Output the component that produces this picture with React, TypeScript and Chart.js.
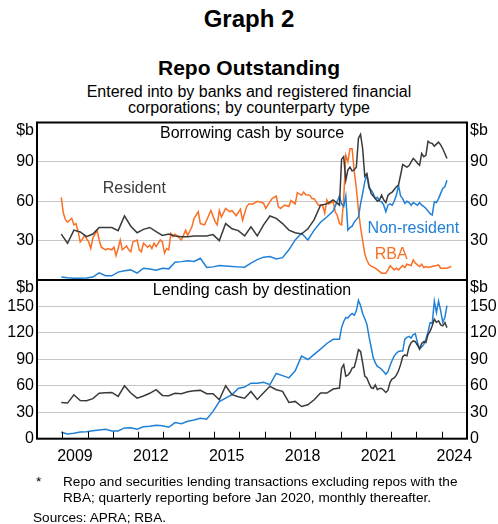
import React, { useEffect, useRef } from 'react';
import { Chart, registerables } from 'chart.js';

Chart.register(...registerables);

const FONT = "'Liberation Sans', Arial, Helvetica, sans-serif";
const BLACK = '#3a3a3a';
const BLUE = '#1f80d8';
const ORANGE = '#fb6f24';

// ---------- dates ----------
// Quarterly observations Dec 2008 – Dec 2019, monthly Jan 2020 – Mar 2024
const quarterlyStart = { year: 2008, month: 12, count: 45, step: 3 };
const monthlyStart = { year: 2020, month: 1, count: 51, step: 1 };
// RBA series: months after Dec 2008 at which values were read
const rbaMonthIndex = [
  0, 1, 2, 3, 5, 6, 7, 8, 9, 10, 11, 13, 14, 15, 17, 18, 19, 21, 22, 24, 25, 26, 27, 28, 29, 31, 32, 33, 34, 36,
  37, 38, 39, 41, 42, 43, 44, 45, 47, 48, 49, 50, 51, 52, 53, 54, 56, 57, 59, 60, 62, 63, 65, 66, 68, 69, 71, 73,
  74, 75, 76, 78, 80, 81, 83, 85, 86, 88, 89, 91, 93, 96, 97, 100, 102, 103, 104, 106, 108, 109, 111, 112, 114,
  115, 116, 118, 119, 120, 122, 124, 125, 126, 127, 129, 130, 131, 132, 133, 134, 135, 136, 137, 138, 139, 140,
  141, 142, 143, 144, 145, 146, 147, 149, 152, 154, 155, 156, 158, 159, 160, 162, 163, 164, 166, 167, 168, 170,
  171, 172, 173, 174, 176, 178, 179, 180, 181, 183, 185,
];

// ---------- borrowing cash by source ($b) ----------
const residentBorrowQ = [
  35, 28, 38, 36.6, 33, 35, 40, 40, 40, 37.6, 48.8, 41, 36, 38.6, 40, 36.8, 34, 35, 33.5, 33, 33, 33.6, 33.6, 33.6,
  34.6, 30, 43, 39, 37.6, 33.6, 40.6, 33.6, 42, 48.8, 47, 43, 38, 36, 35, 39, 46, 57, 58, 61, 57,
];
const residentBorrowM = [
  92, 94, 76, 84, 86, 83, 84, 86, 108, 111, 100, 79, 81, 72, 66, 64, 62, 60, 61, 64.7, 61, 59, 64.5, 66, 67, 69,
  71, 72.3, 80, 88, 87, 86, 87, 90, 92.6, 91, 89, 87.5, 96.4, 94, 95, 105.7, 104.5, 104, 102, 103.5, 105, 103, 100,
  96.4, 92.6,
];
const nonResBorrowQ = [
  2.2, 1.7, 1.4, 1.4, 1.6, 2.2, 5.5, 3.2, 3.2, 6, 7, 7.7, 5.2, 9, 8.3, 7.5, 9, 8.5, 13.6, 14, 14.6, 14.1, 16.6, 9.5,
  10, 11, 10.7, 10.3, 10, 9.8, 12.8, 15.5, 17.4, 17.9, 16.1, 17, 23, 30.5, 35.6, 30.5, 38, 44, 48, 52.5, 64,
];
const nonResBorrowM = [
  58, 56, 64, 38, 40, 41, 44, 46, 48, 58, 66, 75, 80, 70, 68.5, 66, 62, 63, 60, 59.6, 57, 52, 57, 58, 57, 60, 64.7,
  72, 64, 62, 58.4, 60, 59, 57, 59, 58, 57, 59, 57, 56, 54.6, 52.5, 50.5, 49.5, 59.6, 59, 62, 66, 69.8, 71, 76,
];
const rbaValues = [
  63, 51, 46, 44, 47, 42, 43, 37, 29, 31, 34, 29, 24, 32, 38, 30.5, 25, 23, 24, 23, 25, 18.5, 24, 30.5, 23, 26, 23,
  21.5, 29, 30.5, 23, 21.5, 28, 25, 26.5, 24, 28, 25.5, 30.5, 29, 20.5, 24, 23, 35.5, 33, 35, 32, 30.5, 38, 34,
  40.5, 47, 52, 43, 42, 45.5, 53, 44.5, 42, 53, 48, 54.5, 52, 53, 49, 54, 45.5, 56, 58, 58, 60, 58.5, 54.5, 62, 64,
  56, 54.5, 57, 56, 60.5, 58, 66.5, 64.5, 67, 65, 64.5, 62, 62, 57, 57, 51, 61, 58, 60, 52, 49, 43, 42, 62, 95, 90,
  100, 100, 83, 70, 53, 40, 30, 20, 15, 12, 10.5, 9, 5.2, 5.2, 7.7, 10.8, 7.7, 9, 7.7, 11, 9.5, 12, 11, 15.3, 12.8,
  10.3, 12, 9.5, 10.3, 9.5, 10.3, 11, 11.5, 9, 9, 9, 10.3,
];

// ---------- lending cash by destination ($b) ----------
const residentLendQ = [
  41, 40.4, 49.8, 43.4, 43, 45.5, 51.5, 52, 52.5, 47.9, 60, 51.8, 46, 48.5, 51.5, 55.6, 49.1, 48.7, 51.5, 51, 53.2,
  54.4, 54.8, 51, 51, 44.1, 60, 50, 47.5, 46, 53.6, 44.5, 52, 59.4, 55.6, 53.7, 41.1, 42.3, 36.5, 38.5, 44.2, 51.8,
  51.8, 56.3, 57.5,
];
const residentLendM = [
  80, 84, 71, 72, 75, 80, 81, 90, 101, 99, 86, 71, 69, 63, 58, 57, 61, 55.6, 57, 57, 55, 52.5, 55, 64, 68, 69, 72,
  77, 84, 93, 95, 94, 104, 109, 111, 110, 106, 101.5, 108, 110, 109, 118, 122, 128, 135.5, 132, 133.6, 129, 128,
  131.7, 126,
];
const nonResLendQ = [
  7.3, 5.4, 6.1, 7.6, 8, 9.1, 9.9, 10.7, 8.8, 8.8, 12.2, 12.5, 10.7, 13.5, 14.1, 15.3, 14.8, 13, 18.3, 17.1, 19.8,
  21.3, 23.3, 22.1, 31, 42, 46, 50, 57, 58.6, 63, 63, 64, 61.3, 74, 71.5, 69, 77, 93.7, 89.8, 95.6, 101.6, 108,
  112.7, 112.7,
];
const nonResLendM = [
  126, 133, 137.4, 137, 140, 142, 140, 145, 157, 151, 142, 136, 130, 116, 104, 92, 86, 82, 80.5, 78.5, 76, 73, 76,
  83, 89, 94, 97, 99, 99.4, 99.4, 113, 115, 116, 114, 118, 119, 109, 102, 104, 107, 113, 121, 131.7, 131, 156, 143,
  156, 145, 132, 137.4, 151,
];

// ---------- axes ----------
const xMin = 2008;
const xMax = 2025;
const yearTickMarks = [2009, 2010, 2011, 2012, 2013, 2014, 2015, 2016, 2017, 2018, 2019, 2020, 2021, 2022, 2023, 2024];
const yearLabels = [2009, 2012, 2015, 2018, 2021, 2024];
const topMax = 120;
const bottomMax = 180;
const yStep = 30;

function monthSeq(s: { year: number; month: number; count: number; step: number }): number[] {
  const out: number[] = [];
  for (let i = 0; i < s.count; i++) {
    const m = s.month - 1 + i * s.step;
    out.push(s.year + Math.floor(m / 12) + ((m % 12) + 0.5) / 12);
  }
  return out;
}
const quarterDates = monthSeq(quarterlyStart);
const monthDates = monthSeq(monthlyStart);
const rbaDates = rbaMonthIndex.map((i) => 2008 + (11 + i + 0.5) / 12);

function joinSeries(q: number[], m: number[]) {
  return [
    ...quarterDates.map((x, i) => ({ x, y: q[i] })),
    ...monthDates.map((x, i) => ({ x, y: m[i] })),
  ];
}

type Lbl = { text: string; x: number; y: number; color: string };

function decorPlugin(title: string, labels: Lbl[], yearTicks: boolean) {
  return {
    id: 'decor',
    afterDraw(chart: any) {
      const { ctx, chartArea: a, scales } = chart;
      ctx.save();
      ctx.strokeStyle = '#000';
      if (yearTicks) {
        ctx.lineWidth = 1;
        for (const yr of yearTickMarks) {
          const px = Math.round(scales.x.getPixelForValue(yr)) + 0.5;
          ctx.beginPath();
          ctx.moveTo(px, a.bottom);
          ctx.lineTo(px, a.bottom - 7);
          ctx.stroke();
        }
      }
      ctx.lineWidth = 2;
      ctx.strokeRect(a.left, a.top, a.right - a.left, a.bottom - a.top);
      ctx.font = `16px ${FONT}`;
      ctx.fillStyle = '#000';
      ctx.textBaseline = 'middle';
      ctx.textAlign = 'right';
      ctx.fillText('$b', a.left - 3, a.top + 8);
      ctx.textAlign = 'left';
      ctx.fillText('$b', a.right + 3, a.top + 8);
      ctx.textAlign = 'center';
      ctx.fillText(title, (a.left + a.right) / 2, a.top + 11);
      for (const l of labels) {
        ctx.fillStyle = l.color;
        ctx.fillText(l.text, scales.x.getPixelForValue(l.x), scales.y.getPixelForValue(l.y));
      }
      ctx.restore();
    },
  };
}

function line(label: string, data: any[], color: string) {
  return {
    label,
    data,
    borderColor: color,
    backgroundColor: color,
    borderWidth: 1.5,
    pointRadius: 0,
    tension: 0,
    fill: false,
  };
}

function zeroPad(s: any) {
  s.paddingTop = 0;
  s.paddingBottom = 0;
  s.paddingLeft = 0;
  s.paddingRight = 0;
}

function yAxes(max: number, hideZero: boolean) {
  const ticks = {
    stepSize: yStep,
    padding: 3,
    color: '#000',
    font: { size: 16, family: FONT },
    callback: (v: any) => (v === max ? '' : v === 0 && hideZero ? '' : String(v)),
  };
  return {
    y: {
      type: 'linear',
      position: 'left',
      min: 0,
      max,
      ticks,
      grid: { color: '#c6c6c6', lineWidth: 1, drawTicks: false },
      border: { display: false },
      afterFit: (s: any) => {
        s.width = 37;
        zeroPad(s);
      },
    },
    yR: {
      type: 'linear',
      position: 'right',
      min: 0,
      max,
      ticks,
      grid: { drawOnChartArea: false, drawTicks: false },
      border: { display: false },
      afterFit: (s: any) => {
        s.width = 31;
        zeroPad(s);
      },
    },
  };
}

function Panel(props: { top: number; height: number; kind: 'top' | 'bottom' }) {
  const ref = useRef<HTMLCanvasElement>(null);
  useEffect(() => {
    if (!ref.current) return;
    const isTop = props.kind === 'top';
    const datasets = isTop
      ? [
          line('Resident', joinSeries(residentBorrowQ, residentBorrowM), BLACK),
          line('Non-resident', joinSeries(nonResBorrowQ, nonResBorrowM), BLUE),
          line('RBA', rbaDates.map((x, i) => ({ x, y: rbaValues[i] })), ORANGE),
        ]
      : [
          line('Resident', joinSeries(residentLendQ, residentLendM), BLACK),
          line('Non-resident', joinSeries(nonResLendQ, nonResLendM), BLUE),
        ];
    const labels: Lbl[] = isTop
      ? [
          { text: 'Resident', x: 2011.85, y: 70, color: BLACK },
          { text: 'Non-resident', x: 2022.88, y: 39, color: BLUE },
          { text: 'RBA', x: 2022.0, y: 19, color: ORANGE },
        ]
      : [];
    const chart = new Chart(ref.current, {
      type: 'line',
      data: { datasets } as any,
      options: {
        animation: false,
        responsive: true,
        maintainAspectRatio: false,
        parsing: false as any,
        layout: { padding: isTop ? { top: 12.5, bottom: 2, left: 0, right: 0 } : { top: 12, bottom: 0, left: 0, right: 0 } },
        plugins: { legend: { display: false }, tooltip: { enabled: false }, title: { display: false } },
        scales: {
          x: {
            type: 'linear',
            min: xMin,
            max: xMax,
            display: !isTop,
            grid: { display: false, drawTicks: false },
            border: { display: false },
            afterBuildTicks: (s: any) => {
              s.ticks = yearLabels.map((y) => ({ value: y + 0.5 }));
            },
            ticks: {
              autoSkip: false,
              maxRotation: 0,
              padding: 8,
              color: '#000',
              font: { size: 16, family: FONT },
              callback: (v: any) => String(Math.floor(Number(v))),
            },
            afterFit: (s: any) => {
              s.height = isTop ? 0 : 29.3;
              zeroPad(s);
            },
          },
          ...yAxes(isTop ? topMax : bottomMax, isTop),
        } as any,
      },
      plugins: [
        decorPlugin(isTop ? 'Borrowing cash by source' : 'Lending cash by destination', labels, !isTop),
      ],
    });
    return () => chart.destroy();
  }, []);
  return (
    <div style={{ position: 'absolute', left: 0, top: props.top, width: 498, height: props.height }}>
      <canvas ref={ref} />
    </div>
  );
}

function TextLine(props: { text: string; size: number; baseline: number; bold?: boolean; left?: number; center?: boolean }) {
  const top = props.baseline - props.size * 0.8465;
  return (
    <div
      style={{
        position: 'absolute',
        top,
        left: props.center ? 0 : props.left,
        width: props.center ? 498 : undefined,
        textAlign: props.center ? 'center' : 'left',
        fontFamily: FONT,
        fontSize: props.size,
        lineHeight: `${props.size}px`,
        fontWeight: props.bold ? 'bold' : 'normal',
        color: '#000',
        whiteSpace: 'nowrap',
      }}
    >
      {props.text}
    </div>
  );
}

export default function App() {
  return (
    <div style={{ position: 'absolute', left: 0, top: 0, width: 498, height: 524, background: '#fff', overflow: 'hidden' }}>
      <TextLine text="Graph 2" size={24} baseline={27} bold center />
      <TextLine text="Repo Outstanding" size={21} baseline={75} bold center />
      <TextLine text="Entered into by banks and registered financial" size={16} baseline={98} center />
      <TextLine text="corporations; by counterparty type" size={16} baseline={114} center />
      <Panel top={110} height={172} kind="top" />
      <Panel top={268} height={200} kind="bottom" />
      <TextLine text="*" size={13.6} baseline={487} left={36} />
      <TextLine text="Repo and securities lending transactions excluding repos with the" size={13.6} baseline={487} left={63} />
      <TextLine text="RBA; quarterly reporting before Jan 2020, monthly thereafter." size={13.6} baseline={503} left={63} />
      <TextLine text="Sources: APRA; RBA." size={13.6} baseline={523} left={33} />
    </div>
  );
}
